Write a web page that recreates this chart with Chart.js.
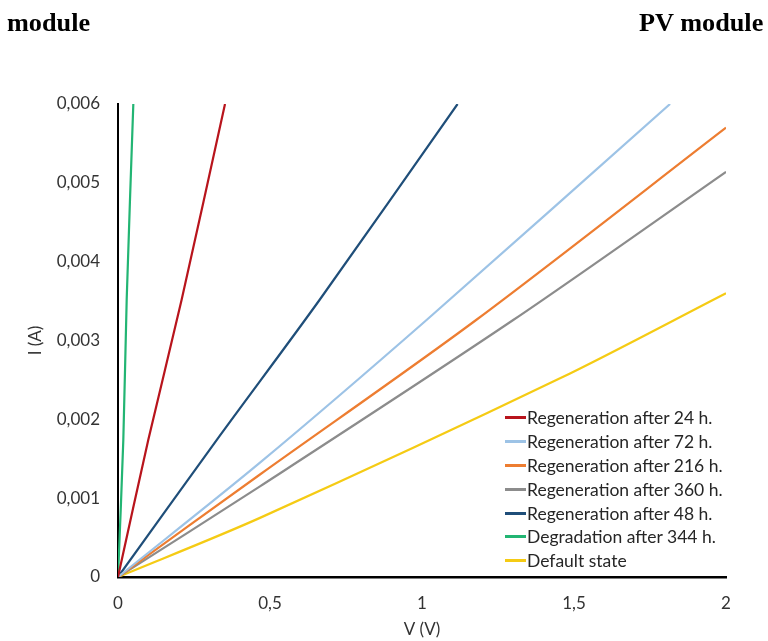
<!DOCTYPE html>
<html>
<head>
<meta charset="utf-8">
<script src="https://cdn.jsdelivr.net/npm/chart.js@4/dist/chart.umd.min.js"></script>
<style>
  html, body { margin: 0; padding: 0; background: #fff; }
  #wrap { position: relative; width: 768px; height: 641px; overflow: hidden; }
  #c { position: absolute; left: 0; top: 0; }
  .hdr { position: absolute; top: 10px; font-family: "Liberation Serif", "Times New Roman", serif; font-weight: bold; font-size: 25px; line-height: 26px; color: #000; white-space: nowrap; }
  #hl { left: 7px; transform-origin: left top; transform: scaleX(1.05); }
  #hr { right: 5px; transform-origin: right top; transform: scaleX(1.05); }
  #legend { position: absolute; left: 505px; top: 406px; font-family: Lato, "Open Sans", sans-serif; font-size: 17.5px; color: #262626; }
  .row { height: 23.8px; display: flex; align-items: center; white-space: nowrap; }
  .sw { width: 21px; height: 3px; margin-right: 1px; }
</style>
</head>
<body>
<div id="wrap">
  <canvas id="c" width="768" height="641"></canvas>
  <div class="hdr" id="hl">module</div>
  <div class="hdr" id="hr">PV module</div>
  <div id="legend"></div>
</div>
<script>
// ---- data ----
const seriesLabels = [
  'Regeneration after 24 h.',
  'Regeneration after 72 h.',
  'Regeneration after 216 h.',
  'Regeneration after 360 h.',
  'Regeneration after 48 h.',
  'Degradation after 344 h.',
  'Default state'
];
const v24  = [0, 0.0997, 0.2095, 0.352];
const i24  = [0, 0.00174, 0.00352, 0.006];
const v72  = [0, 0.467, 1.015, 1.816];
const i72  = [0, 0.00145, 0.00326, 0.006];
const v216 = [0, 0.467, 1.178, 2];
const i216 = [0, 0.0013, 0.00326, 0.0057];
const v360 = [0, 0.467, 1.30, 2];
const i360 = [0, 0.00115, 0.00326, 0.00514];
const v48  = [0, 0.325, 0.664, 1.117];
const i48  = [0, 0.00174, 0.00352, 0.006];
const v344 = [0, 0.0175, 0.0286, 0.0504];
const i344 = [0, 0.00174, 0.00352, 0.006];
const vDef = [0, 0.467, 1.454, 2];
const iDef = [0, 0.00075, 0.00252, 0.0036];
const xTickLabels = ['0', '0,5', '1', '1,5', '2'];
const yTickLabels = ['0', '0,001', '0,002', '0,003', '0,004', '0,005', '0,006'];

const seriesColors = ['#B8141C', '#9DC3E6', '#ED7D31', '#8C8C8C', '#1F4E79', '#22B573', '#F5CB14'];
const seriesV = [v24, v72, v216, v360, v48, v344, vDef];
const seriesI = [i24, i72, i216, i360, i48, i344, iDef];

const toXY = (vs, is) => vs.map((v, k) => ({ x: v, y: is[k] }));

const datasets = seriesLabels.map((lab, k) => ({
  label: lab,
  data: toXY(seriesV[k], seriesI[k]),
  borderColor: seriesColors[k],
  backgroundColor: seriesColors[k],
  borderWidth: 2.2,
  pointRadius: 0,
  tension: 0.3,
  fill: false
}));

const tickFont = { family: 'Lato, "Open Sans", sans-serif', size: 17 };
const tickColor = '#333333';

new Chart(document.getElementById('c'), {
  type: 'line',
  data: { datasets },
  options: {
    responsive: false,
    animation: false,
    layout: { padding: { top: 104, right: 42, left: 0, bottom: 0 } },
    plugins: { legend: { display: false }, tooltip: { enabled: false } },
    scales: {
      x: {
        type: 'linear',
        min: 0, max: 2,
        grid: { display: false, drawTicks: false },
        border: { display: true, color: '#000', width: 2.5 },
        ticks: {
          stepSize: 0.5, padding: 16, color: tickColor, font: tickFont,
          callback: (v, idx) => xTickLabels[idx]
        },
        title: { display: true, text: 'V (V)', color: tickColor, font: tickFont, padding: { top: 0, bottom: 1 } },
        afterFit: (s) => { s.height = 64; }
      },
      y: {
        type: 'linear',
        min: 0, max: 0.006,
        grid: { display: false, drawTicks: false },
        border: { display: true, color: '#000', width: 2 },
        ticks: {
          stepSize: 0.001, padding: 18, color: tickColor, font: tickFont,
          callback: (v, idx) => yTickLabels[idx]
        },
        title: { display: true, text: 'I (A)', color: tickColor, font: tickFont, padding: { top: 25, bottom: 0 } },
        afterFit: (s) => { s.width = 118; }
      }
    }
  }
});

// HTML legend built from the series arrays
const lg = document.getElementById('legend');
seriesLabels.forEach((lab, k) => {
  const row = document.createElement('div');
  row.className = 'row';
  const sw = document.createElement('span');
  sw.className = 'sw';
  sw.style.background = seriesColors[k];
  const tx = document.createElement('span');
  tx.textContent = lab;
  row.appendChild(sw);
  row.appendChild(tx);
  lg.appendChild(row);
});
</script>
</body>
</html>
